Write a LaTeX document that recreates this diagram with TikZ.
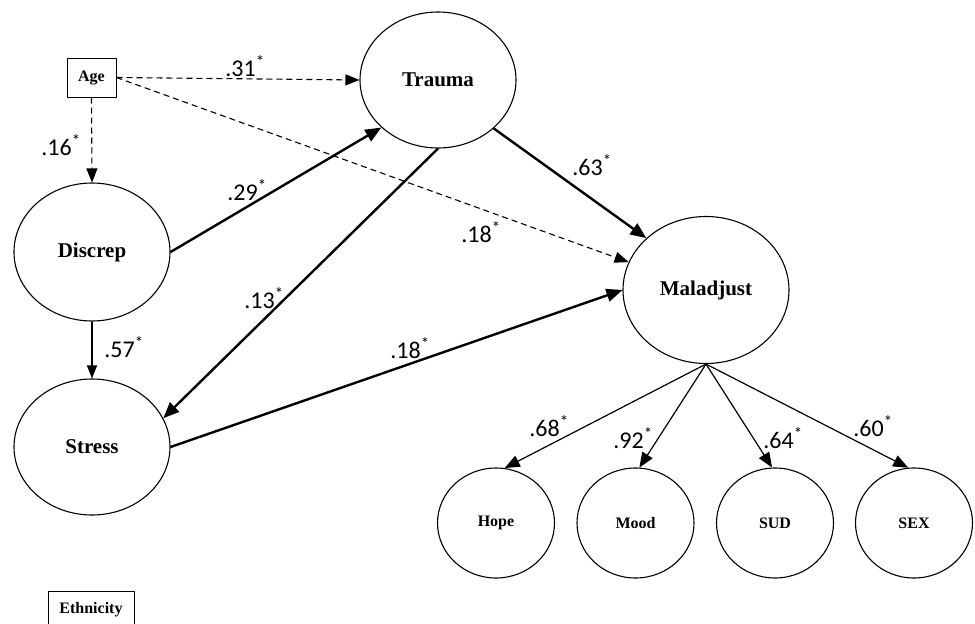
\documentclass[tikz,border=0pt]{standalone}
\usepackage{fontspec}
\setmainfont{Liberation Serif}
\newfontfamily\coeffont{Carlito}
\usetikzlibrary{shapes.geometric,arrows.meta}
\tikzset{
  latent/.style={draw, ellipse, line width=1.1pt, inner sep=0pt, font=\fontsize{21}{21}\selectfont\bfseries},
  indic/.style={draw, ellipse, line width=1.1pt, inner sep=0pt, minimum width=117pt, minimum height=110pt, font=\fontsize{16}{16}\selectfont\bfseries},
  obsbox/.style={draw, rectangle, line width=1pt, inner sep=0pt, font=\fontsize{16}{16}\selectfont\bfseries},
  coef/.style={font=\coeffont\fontsize{24}{24}\selectfont, inner sep=0pt},
  thickarr/.style={line width=2.4pt, -{Triangle[length=16pt,width=13pt]}},
  thinarr/.style={line width=1.4pt, -{Triangle[length=13pt,width=10pt]}},
  dasharr/.style={line width=1.1pt, dashed, dash pattern=on 6pt off 4pt, -{Triangle[length=14pt,width=11pt]}},
  fanarr/.style={line width=1.2pt, -{Triangle[length=15pt,width=12pt]}},
}
\newcommand{\st}{\textsuperscript{*}}
\begin{document}
\begin{tikzpicture}[x=1pt,y=-1pt]
\useasboundingbox (0,0) rectangle (975,624);
\fill[white] (0,0) rectangle (975,624);
% nodes
\node[obsbox, minimum width=49pt, minimum height=39pt] (age) at (91.5,77.5) {Age};
\node[latent, minimum width=156pt, minimum height=136pt] (trauma) at (438,80) {Trauma};
\node[latent, minimum width=156pt, minimum height=138pt] (discrep) at (92,252) {Discrep};
\node[latent, minimum width=156pt, minimum height=136pt] (stress) at (92,447) {Stress};
\node[latent, minimum width=166pt, minimum height=147pt] (mal) at (706,290) {Maladjust};
\node[indic] (hope) at (496,523) {Hope};
\node[indic] (mood) at (635.5,523) {Mood};
\node[indic] (sud) at (775,523) {SUD};
\node[indic] (sex) at (914,523) {SEX};
\node[obsbox, minimum width=86pt, minimum height=38pt] (eth) at (91,610) {Ethnicity};
% paths
\draw[dasharr] (age.east) -- (trauma.west);
\draw[dasharr] (age.south) -- (discrep.north);
\draw[dasharr] (age.east) -- (mal);
\draw[thickarr] (discrep.east) -- (trauma.220);
\draw[thickarr] (trauma.south) -- (stress.22);
\draw[thickarr] (trauma.-41) -- (mal.139);
\draw[thickarr] (stress.east) -- (mal.west);
\draw[thinarr] (discrep.south) -- (stress.north);
\draw[fanarr] (mal.south) -- (hope.81);
\draw[fanarr] (mal.south) -- (mood.86);
\draw[fanarr] (mal.south) -- (sud.93);
\draw[fanarr] (mal.south) -- (sex.96);
% coefficients
\node[coef] (c31) at (245,66) {.31\st};
\node[coef] (c16) at (61,145) {.16\st};
\node[coef] (c29) at (247,190) {.29\st};
\node[coef] (c13) at (264,298) {.13\st};
\node[coef] (c18a) at (481,232) {.18\st};
\node[coef] (c63) at (592,165) {.63\st};
\node[coef] (c57) at (124,347) {.57\st};
\node[coef] (c18b) at (410,348) {.18\st};
\node[coef] (c68) at (549,426) {.68\st};
\node[coef] (c92) at (633,438) {.92\st};
\node[coef] (c64) at (783,438) {.64\st};
\node[coef] (c60) at (873,426) {.60\st};
\end{tikzpicture}
\end{document}
